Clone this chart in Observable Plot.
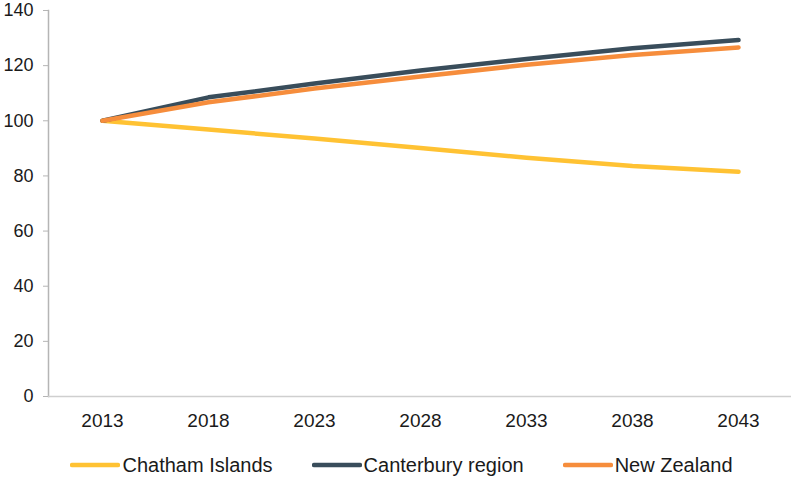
<!DOCTYPE html>
<html>
<head>
<meta charset="utf-8">
<script src="https://cdn.jsdelivr.net/npm/d3@7"></script>
<script src="https://cdn.jsdelivr.net/npm/@observablehq/plot@0.6"></script>
<style>
  html, body { margin: 0; padding: 0; background: #fff; }
  body { width: 791px; font-family: "Liberation Sans", Arial, sans-serif; color: #1a1a1a; }
  #legend { display: flex; justify-content: center; align-items: center; gap: 39px; height: 30px; margin-top: 10px; padding-left: 12px; font-size: 20px; }
  .item { display: flex; align-items: center; }
  .item svg { margin-right: 2px; }
</style>
</head>
<body>
<div id="chart"></div>
<div id="legend"></div>
<script>
// Population projections indexed to 2013 = 100
const years = ["2013", "2018", "2023", "2028", "2033", "2038", "2043"];
const chatham = [100, 96.8, 93.6, 90.1, 86.6, 83.6, 81.5];
const canterbury = [100, 108.5, 113.5, 118.2, 122.4, 126.3, 129.3];
const newZealand = [100, 106.7, 111.7, 116.1, 120.3, 123.9, 126.6];
const yTicks = [0, 20, 40, 60, 80, 100, 120, 140];

const seriesNames = ["Chatham Islands", "Canterbury region", "New Zealand"];
const seriesColors = ["#FFC233", "#394D5B", "#F68D3C"];
const seriesValues = [chatham, canterbury, newZealand];

const rows = seriesNames.flatMap((name, i) =>
  years.map((year, j) => ({series: name, year, value: seriesValues[i][j]}))
);

const chart = Plot.plot({
  width: 791,
  height: 440,
  marginLeft: 48,
  marginRight: 0,
  marginTop: 10,
  marginBottom: 44,
  style: {fontFamily: "Liberation Sans, Arial, sans-serif", fontSize: "18px", color: "#1a1a1a"},
  x: {type: "point", domain: years, padding: 0.5, label: null},
  y: {domain: [0, 140], label: null},
  color: {domain: seriesNames, range: seriesColors},
  marks: [
    Plot.frame({anchor: "left", stroke: "#b5b5b5", strokeWidth: 1.5}),
    Plot.axisY({ticks: yTicks, tickSize: 5, tickPadding: 10, stroke: "#b5b5b5", fill: "#1a1a1a", label: null}),
    Plot.axisX({tickSize: 0, tickPadding: 17, fontSize: 19, fill: "#1a1a1a", label: null}),
    Plot.ruleY([0], {stroke: "#cfcfcf", strokeWidth: 1.5}),
    Plot.line(rows, {x: "year", y: "value", z: "series", stroke: "series", strokeWidth: 4.5, strokeLinecap: "round", strokeLinejoin: "round"})
  ]
});
document.getElementById("chart").append(chart);

const legend = document.getElementById("legend");
seriesNames.forEach((name, i) => {
  const item = document.createElement("div");
  item.className = "item";
  item.innerHTML = `<svg width="50" height="10"><line x1="2" y1="5" x2="48" y2="5" stroke="${seriesColors[i]}" stroke-width="4.5" stroke-linecap="round"/></svg><span>${name}</span>`;
  legend.append(item);
});
</script>
</body>
</html>
